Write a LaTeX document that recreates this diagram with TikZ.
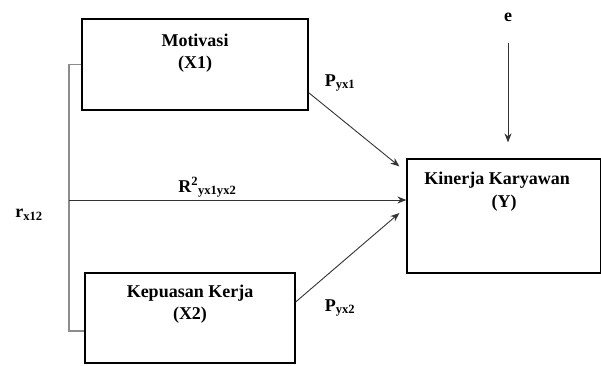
\documentclass[tikz,border=0pt]{standalone}
\usepackage{fontspec}
\setmainfont{Liberation Serif}
\usepackage{tikz}
\usetikzlibrary{positioning,arrows.meta}

\begin{document}
\begin{tikzpicture}[x=1pt,y=-1pt,font=\fontsize{18}{21}\selectfont\bfseries]
\tikzstyle{var}=[rectangle,draw,line width=1.2pt,inner sep=0pt]
\tikzstyle{txt}=[inner sep=1pt]
\tikzstyle{arr}=[-{Stealth[length=9pt,width=7pt]},draw=black!80,line width=0.9pt]
\useasboundingbox (0,0) rectangle (601,365);
\node[var,minimum width=226pt,minimum height=91pt] (mot) at (195,64.5) {};
\node[var,minimum width=210pt,minimum height=90pt] (kep) at (190,318) {};
\node[var,minimum width=194pt,minimum height=114pt] (kin) at (504,216) {};
% box texts
\node[txt] (motname) at (195,40) {Motivasi};
\node[txt] (motsym) at (195,64) {(X1)};
\node[txt] (kepname) at (190,293) {Kepuasan Kerja};
\node[txt] (kepsym) at (190,315) {(X2)};
\node[txt] (kinname) at (497,180) {Kinerja Karyawan};
\node[txt] (kinsym) at (504,203) {(Y)};
\node[txt] (e) at (508,17) {e};
% correlation bracket
\coordinate (br) at (69,200);
\draw[black!45,line width=1.8pt] (mot.west) -| (br) |- ([yshift=-13pt]kep.west);
% paths
\draw[arr] (br) -- (br -| kin.west) node[txt,pos=0.41,above=1pt]{R\textsuperscript{2}\textsubscript{yx1yx2}};
\draw[arr] ([yshift=18pt]mot.south east) -- ([xshift=-7pt,yshift=-8pt]kin.north west);
\draw[arr] ([yshift=16pt]kep.east) -- ([xshift=-7pt,yshift=3pt]kin.west);
\draw[arr,shorten <=20pt,shorten >=16pt] (e) -- (e |- kin.north);
% labels
\node[txt] (pyx1) at (340,83) {P\textsubscript{yx1}};
\node[txt] (pyx2) at (340,308) {P\textsubscript{yx2}};
\node[txt] (rx12) at (29,215) {r\textsubscript{x12}};
\end{tikzpicture}
\end{document}
